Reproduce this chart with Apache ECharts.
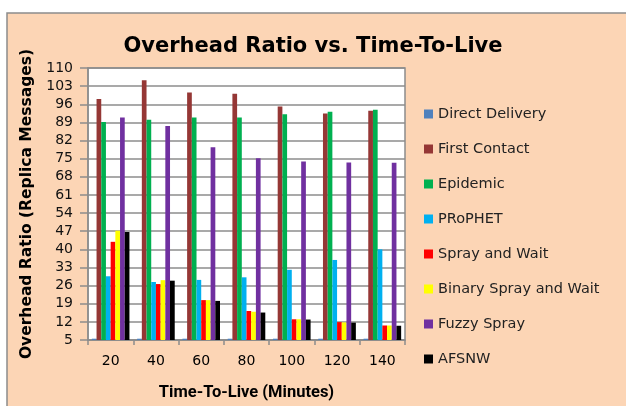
<!DOCTYPE html>
<html>
<head>
<meta charset="utf-8">
<script src="https://cdn.jsdelivr.net/npm/echarts@6/dist/echarts.min.js"></script>
<style>
  html, body { margin: 0; padding: 0; background: #fff; }
  #chart { width: 626px; height: 406px; }
</style>
</head>
<body>
<div id="chart"></div>
<script>
  // data
  var categories = ['20', '40', '60', '80', '100', '120', '140'];
  var directDelivery = [5.5, 5.5, 5.5, 5.5, 5.5, 5.5, 5.5];
  var firstContact = [98, 105.3, 100.5, 100.1, 95.1, 92.4, 93.5];
  var epidemic = [89.2, 90, 90.9, 90.9, 92.1, 93.1, 93.9];
  var prophet = [29.6, 27.4, 28.2, 29.2, 32.1, 35.9, 40];
  var sprayAndWait = [42.9, 26.6, 20.4, 16.2, 13, 11.9, 10.6];
  var binarySpray = [47.2, 28.1, 20.4, 15.9, 13, 11.8, 10.6];
  var fuzzySpray = [90.9, 87.6, 79.4, 75.2, 73.9, 73.5, 73.4];
  var afsnw = [46.7, 27.9, 20.1, 15.6, 12.9, 11.7, 10.5];
  var yTicks = [5, 12, 19, 26, 33, 40, 47, 54, 61, 68, 75, 82, 89, 96, 103, 110];

  var font = '"DejaVu Sans", sans-serif';
  var seriesList = [
    { name: 'Direct Delivery', data: directDelivery, color: '#4F81BD' },
    { name: 'First Contact', data: firstContact, color: '#953735' },
    { name: 'Epidemic', data: epidemic, color: '#00B050' },
    { name: 'PRoPHET', data: prophet, color: '#00B0F0' },
    { name: 'Spray and Wait', data: sprayAndWait, color: '#FF0000' },
    { name: 'Binary Spray and Wait', data: binarySpray, color: '#FFFF00' },
    { name: 'Fuzzy Spray', data: fuzzySpray, color: '#7030A0' },
    { name: 'AFSNW', data: afsnw, color: '#000000' }
  ];

  var myChart = echarts.init(document.getElementById('chart'));
  var option = {
    backgroundColor: '#ffffff',
    animation: false,
    graphic: [{
      type: 'rect',
      shape: { x: 7, y: 13, width: 640, height: 420 },
      style: { fill: '#FCD5B5', stroke: '#8C8C8C', lineWidth: 1.5 },
      z: -10
    }],
    title: {
      text: 'Overhead Ratio vs. Time-To-Live',
      left: 'center',
      top: 31,
      textStyle: { fontFamily: font, fontSize: 21, fontWeight: 'bold', color: '#000' }
    },
    legend: {
      orient: 'vertical',
      left: 419,
      top: 101,
      itemWidth: 9,
      itemHeight: 9,
      itemGap: 19,
      icon: 'rect',
      textStyle: { fontFamily: font, fontSize: 14.5, color: '#222', lineHeight: 16 },
      data: seriesList.map(function (s) { return s.name; })
    },
    grid: {
      left: 88,
      right: 221,
      top: 68,
      bottom: 57,
      show: true,
      backgroundColor: '#ffffff',
      borderColor: '#8C8C8C',
      borderWidth: 1.5
    },
    xAxis: {
      type: 'category',
      data: categories,
      name: 'Time-To-Live (Minutes)',
      nameLocation: 'middle',
      nameGap: 44,
      nameTextStyle: { fontFamily: 'Roboto, sans-serif', fontSize: 16.5, fontWeight: 'bold', color: '#000' },
      axisLine: { lineStyle: { color: '#8C8C8C', width: 1.5 } },
      axisTick: { show: true, interval: 0, length: 5, lineStyle: { color: '#8C8C8C', width: 1.5 } },
      axisLabel: { fontFamily: font, fontSize: 14, color: '#000', margin: 14 }
    },
    yAxis: {
      type: 'value',
      min: 5,
      max: 110,
      interval: 7,
      name: 'Overhead Ratio (Replica Messages)',
      nameLocation: 'middle',
      nameGap: 53,
      nameTextStyle: { fontFamily: font, fontSize: 15.5, fontWeight: 'bold', color: '#000' },
      axisLine: { show: true, lineStyle: { color: '#8C8C8C', width: 1.5 } },
      axisTick: { show: true, length: 8, lineStyle: { color: '#8C8C8C', width: 1.5 } },
      axisLabel: {
        fontFamily: font, fontSize: 14, color: '#111', margin: 15,
        customValues: yTicks
      },
      splitLine: { lineStyle: { color: '#8C8C8C', width: 1.5 } }
    },
    series: seriesList.map(function (s) {
      return {
        name: s.name,
        type: 'bar',
        data: s.data,
        barGap: '0%',
        barCategoryGap: '17%',
        itemStyle: { color: s.color }
      };
    })
  };
  myChart.setOption(option);
</script>
</body>
</html>
